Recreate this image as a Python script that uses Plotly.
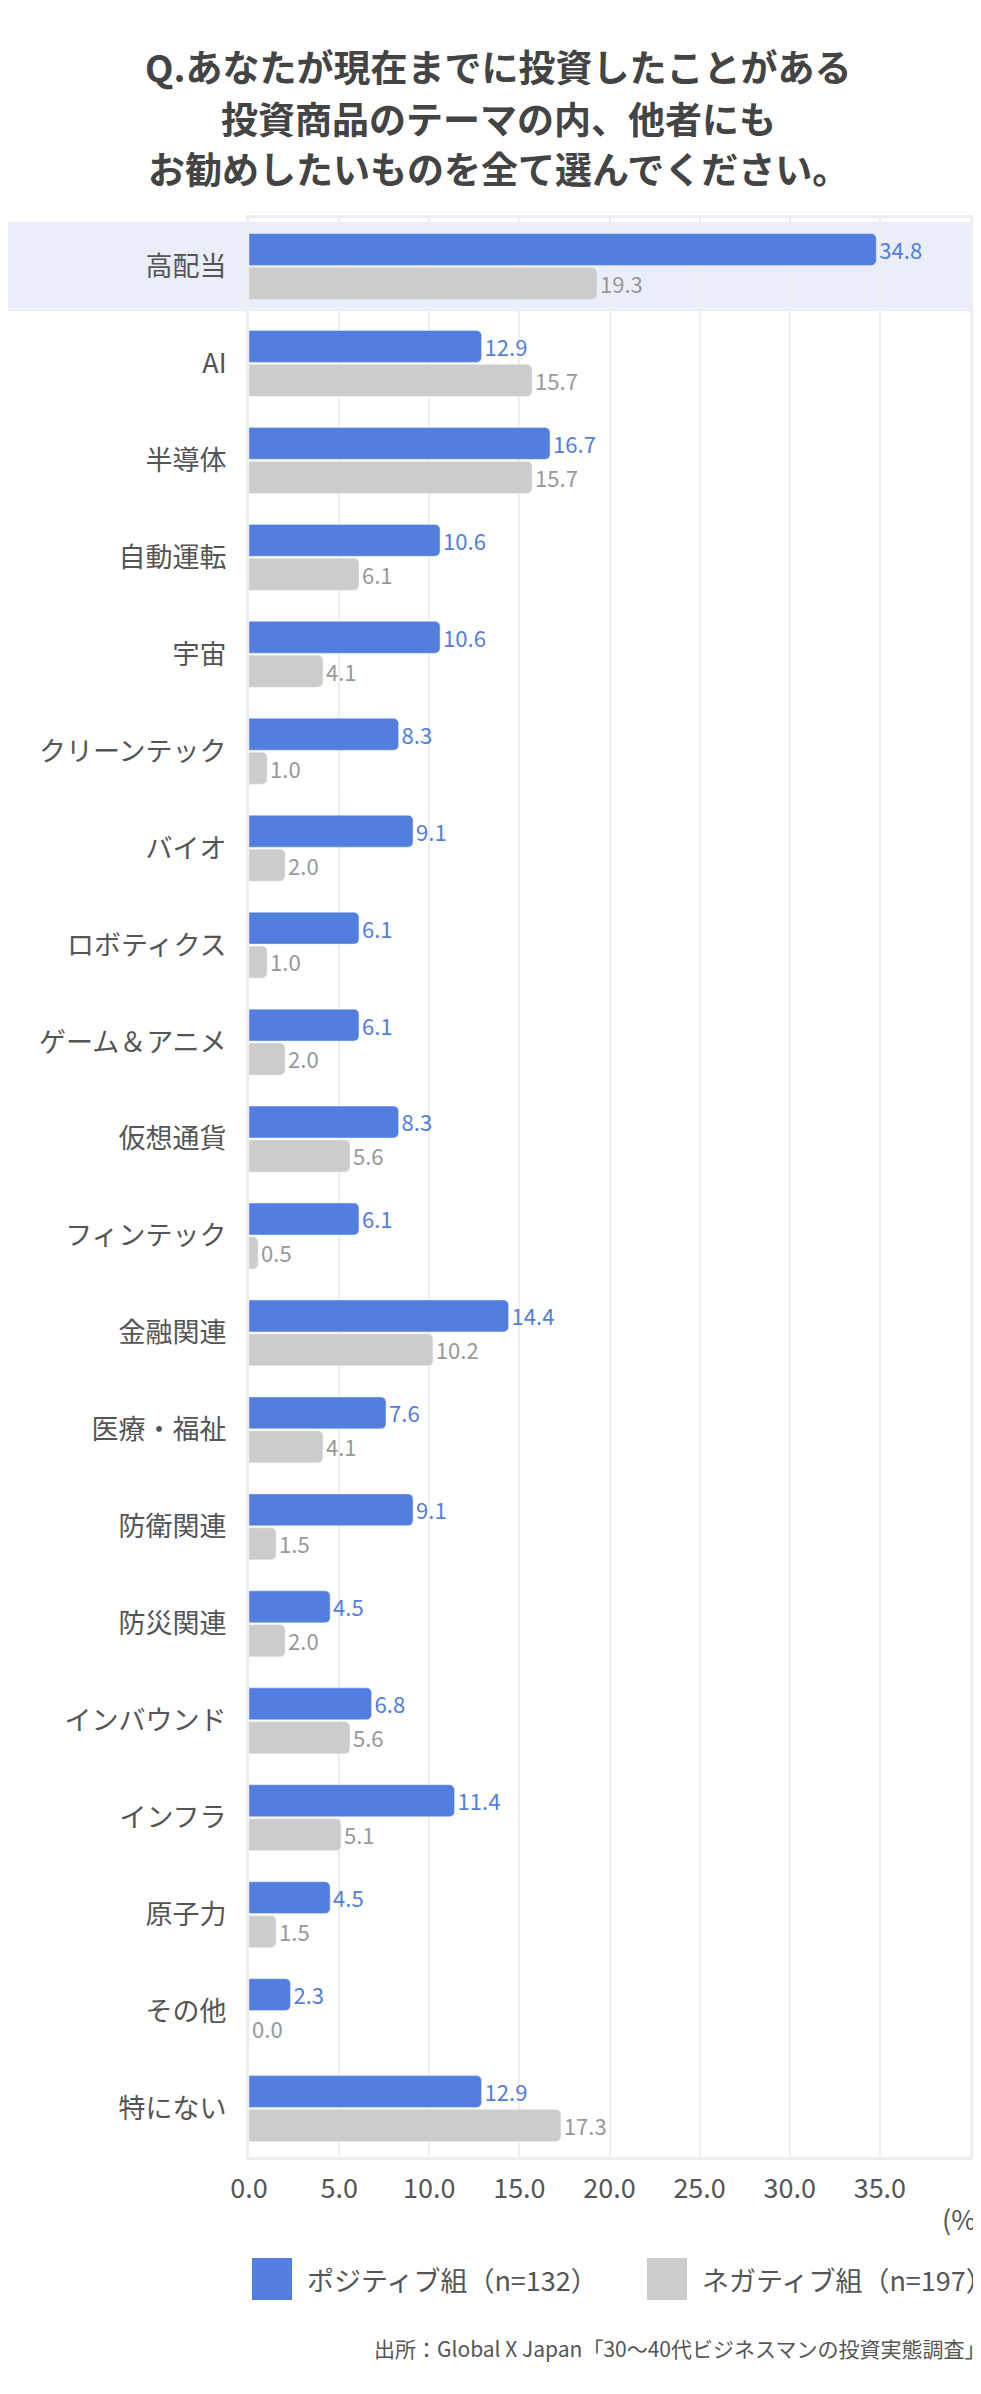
import plotly.graph_objects as go

categories = ["高配当","AI","半導体","自動運転","宇宙","クリーンテック","バイオ","ロボティクス","ゲーム＆アニメ","仮想通貨",
              "フィンテック","金融関連","医療・福祉","防衛関連","防災関連","インバウンド","インフラ","原子力","その他","特にない"]
positive = [34.8,12.9,16.7,10.6,10.6,8.3,9.1,6.1,6.1,8.3,6.1,14.4,7.6,9.1,4.5,6.8,11.4,4.5,2.3,12.9]
negative = [19.3,15.7,15.7,6.1,4.1,1.0,2.0,1.0,2.0,5.6,0.5,10.2,4.1,1.5,2.0,5.6,5.1,1.5,0.0,17.3]
ticks = [0,5,10,15,20,25,30,35,40]
series_names = ["ポジティブ組（n=132）", "ネガティブ組（n=197）"]
title_lines = ["Q.あなたが現在までに投資したことがある", "投資商品のテーマの内、他者にも", "お勧めしたいものを全て選んでください。"]

FONT = "Noto Sans CJK JP"
BLUE = "#527ee0"; GRAY = "#cccccc"
W, H = 981, 2394
L, R, T, B = 241, 19, 210, 245
PH = H - T - B
PW = W - L - R
def py(p):  # pixel y -> paper y
    return (H - B - p) / PH
def px(p):
    return (p - L) / PW

fig = go.Figure()
fig.add_bar(y=categories, x=positive, orientation="h", name=series_names[0],
            marker_color=BLUE, text=[f"{v:.1f}" for v in positive], textposition="outside",
            textfont=dict(color=BLUE, size=27, family=FONT), cliponaxis=False)
fig.add_bar(y=categories, x=negative, orientation="h", name=series_names[1],
            marker_color=GRAY, text=[f"{v:.1f}" for v in negative], textposition="outside",
            textfont=dict(color="#999999", size=27, family=FONT), cliponaxis=False)

fig.add_shape(type="rect", xref="paper", yref="y", x0=px(0), x1=px(W), y0=-0.46, y1=0.46,
              fillcolor="#eaeefb", line_width=0, layer="below")

fig.update_layout(
    width=W, height=H, paper_bgcolor="white", plot_bgcolor="rgba(0,0,0,0)",
    margin=dict(l=L, r=R, t=T, b=B),
    barmode="group", bargap=0.3, bargroupgap=0.06, barcornerradius=5,
    font=dict(family=FONT, size=27, color="#555555"),
    showlegend=False,
)
for i, line in enumerate(title_lines):
    fig.add_annotation(text=f"<b>{line}</b>", xref="paper", yref="paper", x=px(W/2), y=py([58,110,160][i]),
                       xanchor="center", yanchor="middle", showarrow=False,
                       font=dict(size=37, color="#444444"))
fig.update_xaxes(range=[0, 40], tickvals=ticks, ticktext=[f"{t:.1f}" for t in ticks],
                 showgrid=True, gridcolor="#eeeeee", gridwidth=2, zeroline=False,
                 showline=True, linecolor="#eeeeee", linewidth=3, mirror=True,
                 tickfont=dict(size=27, color="#555555"), ticks="outside", ticklen=6,
                 tickcolor="rgba(0,0,0,0)")
fig.update_yaxes(autorange="reversed", showline=True, linecolor="#eeeeee", linewidth=3, mirror=True,
                 ticks="outside", ticklen=14, tickcolor="rgba(0,0,0,0)",
                 tickfont=dict(size=27, color="#555555"))
fig.add_annotation(text="(%)", xref="paper", yref="paper", x=px(W-2), y=py(2210), xanchor="right", yanchor="middle",
                   showarrow=False, font=dict(size=27, color="#555555"))
# legend drawn manually (rounded large swatches)
for col, x0, tx, name in [(BLUE, 244, 297, series_names[0]), (GRAY, 639, 692, series_names[1])]:
    fig.add_shape(type="rect", xref="paper", yref="paper", x0=px(x0), x1=px(x0+40), y0=py(2292), y1=py(2250),
                  fillcolor=col, line_width=0)
    fig.add_annotation(text=name, xref="paper", yref="paper", x=px(tx), y=py(2271), xanchor="left",
                       yanchor="middle", showarrow=False, font=dict(size=27, color="#555555"))
fig.add_annotation(text="出所：Global X Japan「30～40代ビジネスマンの投資実態調査」", xref="paper", yref="paper",
                   x=px(W-2), y=py(2340), xanchor="right", yanchor="middle", showarrow=False,
                   font=dict(size=21, color="#555555"))
fig.write_html("out.html")
